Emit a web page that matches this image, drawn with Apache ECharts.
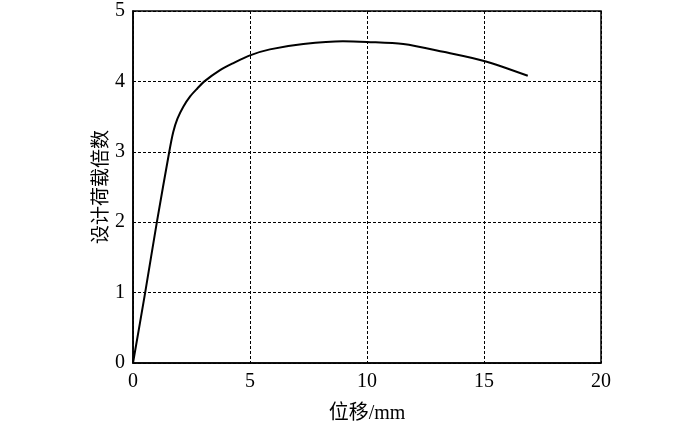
<!DOCTYPE html>
<html><head><meta charset="utf-8">
<script src="https://cdn.jsdelivr.net/npm/echarts@6/dist/echarts.min.js"></script>
<style>html,body{margin:0;padding:0;background:#fff}#c{width:700px;height:436px}</style>
</head><body><div id="c"></div>
<script>
const displacement = [0, 0.52, 1.02, 1.55, 1.72, 1.9, 2.15, 2.45, 2.75, 3.05, 3.72, 4.29, 5.0, 5.85, 7.28, 8.97, 10.0, 11.55, 13.26, 15.0, 16.87];
const loadFactor   = [0, 1.0, 2.0, 3.0, 3.28, 3.47, 3.64, 3.79, 3.9, 4.0, 4.16, 4.26, 4.37, 4.455, 4.53, 4.57, 4.56, 4.53, 4.42, 4.29, 4.08];
const xTitle = '位移/mm';
const yTitle = '设计荷载倍数';
const font = '"Liberation Serif","Times New Roman","Noto Sans CJK SC",serif';
const chart = echarts.init(document.getElementById('c'));
chart.setOption({
  animation: false,
  backgroundColor: '#fff',
  grid: {left: 133, top: 11, width: 468, height: 352, show: true, borderColor: '#000', borderWidth: 1.5, backgroundColor: 'transparent'},
  xAxis: {
    type: 'value', min: 0, max: 20, interval: 5,
    name: xTitle, nameLocation: 'middle', nameGap: 41,
    nameTextStyle: {fontFamily: font, fontSize: 20, color: '#000'},
    axisLine: {lineStyle: {color: '#000', width: 1.5}},
    axisTick: {show: false},
    axisLabel: {fontFamily: font, fontSize: 20, color: '#000', margin: 9},
    splitLine: {show: true, lineStyle: {color: '#000', type: [3, 2], width: 1}}
  },
  yAxis: {
    type: 'value', min: 0, max: 5, interval: 1,
    name: yTitle, nameLocation: 'middle', nameGap: 21, nameMoveOverlap: false,
    nameTextStyle: {fontFamily: font, fontSize: 19, color: '#000'},
    axisLine: {lineStyle: {color: '#000', width: 1.5}},
    axisTick: {show: false},
    axisLabel: {fontFamily: font, fontSize: 20, color: '#000', margin: 8},
    splitLine: {show: true, lineStyle: {color: '#000', type: [3, 2], width: 1}}
  },
  series: [{
    type: 'line',
    data: displacement.map((x, i) => [x, loadFactor[i]]),
    showSymbol: false, smooth: 0.3,
    lineStyle: {color: '#000', width: 2}
  }]
});
</script></body></html>
